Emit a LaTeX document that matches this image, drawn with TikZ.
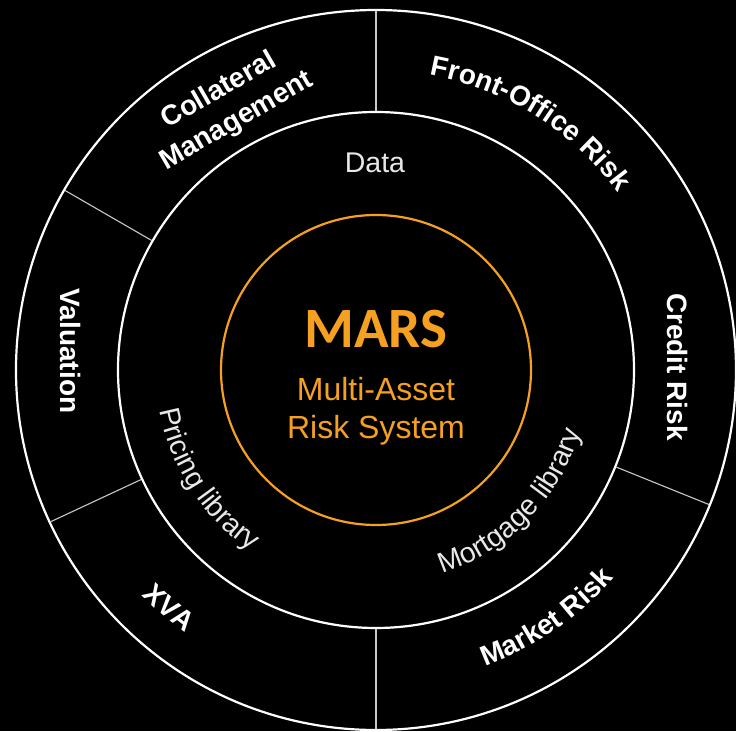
\documentclass[tikz,border=0pt]{standalone}
\usepackage{fontspec}
\setmainfont{Liberation Sans}
\newfontfamily\marsfont{Carlito}
\usetikzlibrary{decorations.text}

\definecolor{marsorange}{HTML}{F5A020}
\definecolor{ringgray}{HTML}{C8C8C8}
\definecolor{innertext}{HTML}{E8E8E8}

% label fonts (sizes in pt; the picture is drawn at 1pt per unit)
\newcommand{\outerfont}{\bfseries\fontsize{28}{34}\selectfont}
\newcommand{\innerfont}{\fontsize{28.5}{34}\selectfont}

\begin{document}
\begin{tikzpicture}[x=1pt,y=1pt,
  ring/.style={draw=white, line width=2.2pt},
  divider/.style={draw=ringgray, line width=1.1pt},
  core/.style={draw=marsorange, line width=2.2pt},
  outerlabel/.style={text=white, font=\outerfont, inner sep=0pt},
  innerlabel/.style={text=innertext, font=\innerfont, inner sep=0pt},
  title/.style={text=marsorange, inner sep=0pt, anchor=base},
  arctext/.style={decorate, decoration={text along path, text align=center, text={#1}}}
]
% background and page size
\fill[black] (-376,-361) rectangle (360,370);
\useasboundingbox (-376,-361) rectangle (360,370);

% rings
\draw[ring] (0,0) circle[radius=360pt];
\draw[ring] (0,0) circle[radius=258pt];
\draw[core] (0,0) circle[radius=155pt];

% sector dividers of the outer band
\foreach \a in {90,150,205,270,338}
  \draw[divider] (\a:259pt) -- (\a:359pt);

% outer band labels
\node[outerlabel, rotate=30, align=center, font=\bfseries\fontsize{28}{35}\selectfont]
  (collateral) at (-148,264) {Collateral\\Management};
\path[arctext={|\outerfont\color{white}|Front-Office Risk}]
  (83:300pt) arc[start angle=83, end angle=33, radius=300pt];
\node[outerlabel, rotate=-90] (credit) at (302,3) {Credit Risk};
\path[arctext={|\outerfont\color{white}|Market Risk}]
  (-80:316pt) arc[start angle=-80, end angle=-31, radius=316pt];
\path[arctext={|\outerfont\color{white}|XVA}]
  (209:325pt) arc[start angle=209, end angle=249, radius=325pt];
\node[outerlabel, rotate=-90] (valuation) at (-305,19) {Valuation};

% middle band labels
\node[innerlabel] (data) at (-1,207) {Data};
\path[arctext={|\innerfont\color{innertext}|Pricing library}]
  (182:220pt) arc[start angle=182, end angle=244, radius=220pt];
\path[arctext={|\innerfont\color{innertext}|Mortgage library}]
  (-80:214pt) arc[start angle=-80, end angle=-9, radius=214pt];

% core
\node[title, font=\marsfont\bfseries\fontsize{57}{57}\selectfont] (mars) at (0,23) {MARS};
\node[title, font=\fontsize{32}{32}\selectfont] (multiasset) at (0,-30) {Multi-Asset};
\node[title, font=\fontsize{32}{32}\selectfont] (risksystem) at (0,-68) {Risk System};
\end{tikzpicture}
\end{document}
